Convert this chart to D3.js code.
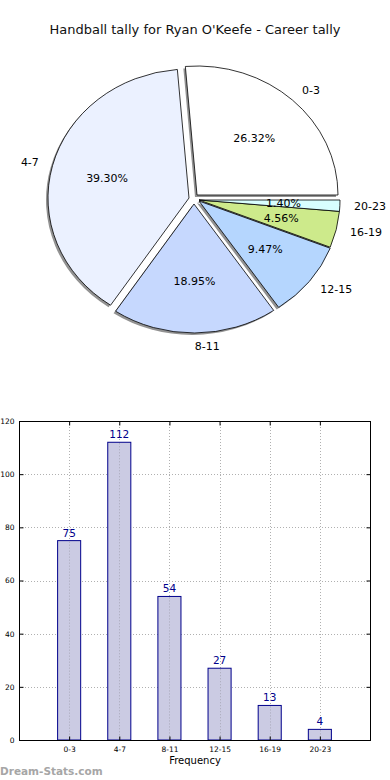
<!DOCTYPE html>
<html>
<head>
<meta charset="utf-8">
<script src="https://cdn.jsdelivr.net/npm/d3@7"></script>
<style>
  html, body { margin: 0; padding: 0; background: #fff; }
  svg { display: block; font-family: "DejaVu Sans", sans-serif; }
</style>
</head>
<body>
<svg id="chart" width="390" height="780"></svg>
<script>
const title = "Handball tally for Ryan O'Keefe - Career tally";
const categories = ["0-3", "4-7", "8-11", "12-15", "16-19", "20-23"];
const counts = [75, 112, 54, 27, 13, 4];
const sliceColors = ["#ffffff", "#ebf1ff", "#c6d8fe", "#b5d6fe", "#cdea8b", "#d8fefe"];
const yTicks = [0, 20, 40, 60, 80, 100, 120];
const xLabel = "Frequency";
const watermark = "Dream-Stats.com";

// per-slice explode offsets (pixels)
const explodeDx = [-2, -10, -5, 0, 0, 0];
const explodeDy = [-5, -2, 4, 1, 0, 0];

const svg = d3.select("#chart");

svg.append("text")
  .attr("x", 195).attr("y", 34)
  .attr("text-anchor", "middle")
  .attr("font-size", 13)
  .attr("fill", "#111")
  .text(title);

// ---------- Pie ----------
const cx = 199, cy = 200, rx = 141, ry = 129;
const total = d3.sum(counts);
const pie = d3.pie().sort(null).startAngle(Math.PI / 2).endAngle(Math.PI / 2 - 2 * Math.PI);
const arcs = pie(counts);
const arc = d3.arc().innerRadius(0).outerRadius(ry);
const sx = rx / ry;

const pieG = svg.append("g");

pieG.selectAll("path.shadow")
  .data(arcs)
  .join("path")
  .attr("class", "shadow")
  .attr("transform", (d, i) => `translate(${cx + explodeDx[i] - 2},${cy + explodeDy[i] + 2}) scale(${sx},1)`)
  .attr("d", arc)
  .attr("fill", "#7f7f7f")
  .attr("fill-opacity", 0.85);

pieG.selectAll("path.wedge")
  .data(arcs)
  .join("path")
  .attr("class", "wedge")
  .attr("transform", (d, i) => `translate(${cx + explodeDx[i]},${cy + explodeDy[i]}) scale(${sx},1)`)
  .attr("d", arc)
  .attr("fill", (d, i) => sliceColors[i])
  .attr("stroke", "#000")
  .attr("stroke-width", 0.8)
  .attr("vector-effect", "non-scaling-stroke");

function midPos(d, i, k) {
  const m = (d.startAngle + d.endAngle) / 2;
  return [cx + explodeDx[i] + k * rx * Math.sin(m), cy + explodeDy[i] - k * ry * Math.cos(m), Math.sin(m)];
}

pieG.selectAll("text.cat")
  .data(arcs)
  .join("text")
  .attr("class", "cat")
  .each(function (d, i) {
    const [px, py, s] = midPos(d, i, 1.1);
    d3.select(this).attr("x", px).attr("y", py)
      .attr("text-anchor", s > 0 ? "start" : "end");
  })
  .attr("dy", "0.35em")
  .attr("font-size", 11)
  .attr("fill", "#000")
  .text((d, i) => categories[i]);

pieG.selectAll("text.pct")
  .data(arcs)
  .join("text")
  .attr("class", "pct")
  .each(function (d, i) {
    const [px, py] = midPos(d, i, 0.6);
    d3.select(this).attr("x", px).attr("y", py);
  })
  .attr("text-anchor", "middle")
  .attr("dy", "0.35em")
  .attr("font-size", 11)
  .attr("fill", "#000")
  .text(d => d3.format(".2f")(d.value / total * 100) + "%");

// ---------- Bar chart ----------
const plotL = 19, plotR = 370, plotT = 421, plotB = 740;
const x = d3.scaleLinear().domain([-1, 6]).range([plotL, plotR]);
const y = d3.scaleLinear().domain([0, 120]).range([plotB, plotT]);
const idx = d3.range(categories.length);
const barW = 0.46;

const barG = svg.append("g");

barG.selectAll("line.hgrid")
  .data(yTicks)
  .join("line")
  .attr("class", "hgrid")
  .attr("x1", plotL).attr("x2", plotR)
  .attr("y1", d => Math.round(y(d)) + 0.5).attr("y2", d => Math.round(y(d)) + 0.5)
  .attr("stroke", "#b0b0b0").attr("stroke-width", 1)
  .attr("stroke-dasharray", "1,2");

barG.selectAll("line.vgrid")
  .data(idx)
  .join("line")
  .attr("class", "vgrid")
  .attr("x1", d => Math.round(x(d)) + 0.5).attr("x2", d => Math.round(x(d)) + 0.5)
  .attr("y1", plotT).attr("y2", plotB)
  .attr("stroke", "#b0b0b0").attr("stroke-width", 1)
  .attr("stroke-dasharray", "1,2");

barG.selectAll("rect.bar")
  .data(counts)
  .join("rect")
  .attr("class", "bar")
  .attr("x", (d, i) => x(i - barW / 2))
  .attr("width", x(barW) - x(0))
  .attr("y", d => y(d))
  .attr("height", d => y(0) - y(d))
  .attr("fill", "#cbcbe3")
  .attr("stroke", "#00008b")
  .attr("stroke-width", 1);

// grid drawn over bars as in the reference
barG.selectAll("line.vgrid2")
  .data(idx)
  .join("line")
  .attr("class", "vgrid2")
  .attr("x1", d => Math.round(x(d)) + 0.5).attr("x2", d => Math.round(x(d)) + 0.5)
  .attr("y1", d => y(counts[d]) + 1).attr("y2", plotB)
  .attr("stroke", "#a8a8b8").attr("stroke-width", 1)
  .attr("stroke-dasharray", "1,2");

barG.selectAll("text.val")
  .data(counts)
  .join("text")
  .attr("class", "val")
  .attr("x", (d, i) => x(i))
  .attr("y", d => y(d) - 4)
  .attr("text-anchor", "middle")
  .attr("font-size", 10.5)
  .attr("fill", "#00008b")
  .text(d => d);

barG.append("rect")
  .attr("x", plotL + 0.5).attr("y", plotT + 0.5)
  .attr("width", plotR - plotL).attr("height", plotB - plotT)
  .attr("fill", "none").attr("stroke", "#000").attr("stroke-width", 1);

const yAxis = d3.axisLeft(y).tickValues(yTicks).tickSize(-4).tickPadding(5).tickFormat(d3.format("d"));
const yg = barG.append("g").attr("transform", `translate(${plotL + 0.5},0)`).call(yAxis);
yg.select(".domain").remove();
yg.selectAll("text").attr("font-size", 7.5).attr("font-family", "DejaVu Sans, sans-serif").attr("fill", "#000");
const yAxisR = d3.axisRight(y).tickValues(yTicks).tickSize(-4).tickFormat("");
const ygr = barG.append("g").attr("transform", `translate(${plotR + 0.5},0)`).call(yAxisR);
ygr.select(".domain").remove();

const xAxis = d3.axisBottom(x).tickValues(idx).tickSize(-4).tickPadding(6).tickFormat(i => categories[i]);
const xg = barG.append("g").attr("transform", `translate(0,${plotB + 0.5})`).call(xAxis);
xg.select(".domain").remove();
xg.selectAll("text").attr("font-size", 7.5).attr("font-family", "DejaVu Sans, sans-serif").attr("fill", "#000");
const xAxisT = d3.axisTop(x).tickValues(idx).tickSize(-4).tickFormat("");
const xgt = barG.append("g").attr("transform", `translate(0,${plotT + 0.5})`).call(xAxisT);
xgt.select(".domain").remove();

barG.append("text")
  .attr("x", 195).attr("y", 764)
  .attr("text-anchor", "middle")
  .attr("font-size", 10)
  .attr("fill", "#000")
  .text(xLabel);

svg.append("text")
  .attr("x", 0).attr("y", 775)
  .attr("font-size", 10.5)
  .attr("font-weight", "bold")
  .attr("fill", "#a6a6a6")
  .text(watermark);
</script>
</body>
</html>
